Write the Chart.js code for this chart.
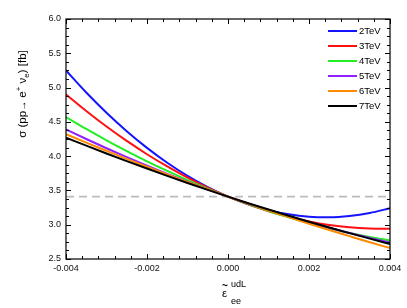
<!DOCTYPE html>
<html>
<head>
<meta charset="utf-8">
<script src="https://cdn.jsdelivr.net/npm/chart.js@4.4.1/dist/chart.umd.min.js"></script>
<style>
html,body{margin:0;padding:0;background:#fff;}
#wrap{width:407px;height:308px;position:relative;}
</style>
</head>
<body>
<div id="wrap"><canvas id="c" width="407" height="308"></canvas></div>
<script>
// x values (epsilon~ udL ee)
const xs = [-0.004,-0.0035,-0.003,-0.0025,-0.002,-0.0015,-0.001,-0.0005,0,0.0005,0.001,0.0015,0.002,0.0025,0.003,0.0035,0.004];
const labels = ["2TeV","3TeV","4TeV","5TeV","6TeV","7TeV"];
const colors = ["#1414ff","#ff1010","#22ee22","#9020ff","#ff8a00","#000000"];
const s2TeV = [5.249,4.928,4.633,4.364,4.121,3.904,3.713,3.549,3.41,3.298,3.211,3.151,3.117,3.109,3.127,3.171,3.241];
const s3TeV = [4.900,4.659,4.432,4.222,4.028,3.850,3.687,3.541,3.41,3.296,3.197,3.115,3.048,2.997,2.962,2.944,2.940];
const s4TeV = [4.570,4.397,4.231,4.074,3.925,3.784,3.651,3.527,3.41,3.302,3.201,3.109,3.025,2.949,2.881,2.821,2.770];
const s5TeV = [4.389,4.250,4.115,3.986,3.861,3.741,3.626,3.515,3.41,3.309,3.214,3.123,3.037,2.956,2.879,2.808,2.741];
const s6TeV = [4.320,4.197,4.078,3.960,3.845,3.732,3.623,3.515,3.41,3.307,3.208,3.110,3.015,2.922,2.833,2.745,2.660];
const s7TeV = [4.270,4.153,4.039,3.928,3.819,3.713,3.609,3.508,3.41,3.314,3.221,3.131,3.043,2.959,2.877,2.797,2.720];
const series = [s2TeV,s3TeV,s4TeV,s5TeV,s6TeV,s7TeV];
const refX = [-0.004, 0.004];
const refY = [3.41, 3.41];
const yMin = 2.5, yMax = 6.0, yStep = 0.5, yMinor = 0.125;
const xMin = -0.004, xMax = 0.004, xStep = 0.002, xMinor = 0.0004;

const FONT = "'Liberation Sans', Arial, sans-serif";

const datasets = series.map((s, i) => ({
  label: labels[i],
  data: xs.map((x, j) => ({x: x, y: s[j]})),
  borderColor: colors[i],
  backgroundColor: colors[i],
  borderWidth: 2,
  pointRadius: 0,
  cubicInterpolationMode: 'monotone',
  order: series.length - i
}));
datasets.push({
  label: 'ref',
  data: refX.map((x, j) => ({x: x, y: refY[j]})),
  borderColor: '#bbbbbb',
  borderWidth: 1.6,
  borderDash: [8, 5],
  pointRadius: 0,
  order: 100
});

const decor = {
  id: 'decor',
  afterDatasetsDraw(chart) {
    const ctx = chart.ctx;
    const a = chart.chartArea;
    const xsc = chart.scales.x, ysc = chart.scales.y;
    ctx.save();
    // frame
    ctx.strokeStyle = '#000';
    ctx.lineWidth = 1.2;
    ctx.strokeRect(a.left, a.top, a.right - a.left, a.bottom - a.top);
    ctx.lineWidth = 1;
    ctx.beginPath();
    const ny = Math.round((yMax - yMin) / yMinor);
    for (let k = 0; k <= ny; k++) {
      const v = yMin + k * yMinor;
      const major = Math.abs((v - yMin) / yStep - Math.round((v - yMin) / yStep)) < 1e-6;
      const len = major ? 5 : 3;
      const py = Math.round(ysc.getPixelForValue(v)) + 0.5;
      ctx.moveTo(a.left, py); ctx.lineTo(a.left + len, py);
      ctx.moveTo(a.right, py); ctx.lineTo(a.right - len, py);
    }
    const nx = Math.round((xMax - xMin) / xMinor);
    for (let k = 0; k <= nx; k++) {
      const v = xMin + k * xMinor;
      const major = Math.abs((v - xMin) / xStep - Math.round((v - xMin) / xStep)) < 1e-6;
      const len = major ? 5 : 3;
      const px = Math.round(xsc.getPixelForValue(v)) + 0.5;
      ctx.moveTo(px, a.bottom); ctx.lineTo(px, a.bottom - len);
      ctx.moveTo(px, a.top); ctx.lineTo(px, a.top + len);
    }
    ctx.stroke();

    // legend
    ctx.textBaseline = 'middle';
    ctx.textAlign = 'left';
    ctx.font = '9.5px ' + FONT;
    for (let i = 0; i < labels.length; i++) {
      const y = 31 + i * 15;
      ctx.strokeStyle = colors[i];
      ctx.lineWidth = 2;
      ctx.beginPath();
      ctx.moveTo(328, y); ctx.lineTo(357, y);
      ctx.stroke();
      ctx.fillStyle = '#000';
      ctx.fillText(labels[i], 359, y + 0.5);
    }

    // y title (rotated)
    ctx.save();
    ctx.translate(22, 94);
    ctx.rotate(-Math.PI / 2);
    const parts = [
      {t: 'σ (pp', f: 11.5, dy: 0},
      {t: '→', f: 10, dy: 0},
      {t: ' e', f: 11.5, dy: 0},
      {t: '+', f: 8, dy: -5},
      {t: ' ν', f: 11.5, dy: 0},
      {t: 'e', f: 8, dy: 3},
      {t: ') [fb]', f: 11.5, dy: 0}
    ];
    let tw = 0;
    parts.forEach(p => { ctx.font = p.f + 'px ' + FONT; p.w = ctx.measureText(p.t).width; tw += p.w; });
    let cx = -tw / 2;
    ctx.textBaseline = 'alphabetic';
    ctx.fillStyle = '#000';
    parts.forEach(p => { ctx.font = p.f + 'px ' + FONT; ctx.fillText(p.t, cx, 4 + p.dy); cx += p.w; });
    ctx.restore();

    // x title
    ctx.fillStyle = '#000';
    ctx.textBaseline = 'alphabetic';
    ctx.textAlign = 'left';
    ctx.font = '11.5px ' + FONT;
    ctx.fillText('ε', 222, 297);
    ctx.font = 'bold 10px ' + FONT;
    ctx.fillText('~', 222, 289);
    ctx.font = '9px ' + FONT;
    ctx.fillText('udL', 231, 287);
    ctx.font = '9px ' + FONT;
    ctx.fillText('ee', 231, 304);
    ctx.restore();
  }
};

new Chart(document.getElementById('c'), {
  type: 'line',
  data: { datasets: datasets },
  options: {
    responsive: false,
    animation: false,
    devicePixelRatio: 1,
    layout: { padding: { left: 0, top: 19, right: 17, bottom: 0 } },
    plugins: { legend: { display: false }, tooltip: { enabled: false } },
    scales: {
      x: {
        type: 'linear', min: xMin, max: xMax,
        afterFit(s) { s.height = 49; },
        grid: { display: false, drawTicks: false },
        border: { display: false },
        ticks: {
          stepSize: xStep, padding: 4, color: '#111',
          font: { size: 9, family: FONT },
          maxRotation: 0,
          callback: v => Number(v).toFixed(3)
        }
      },
      y: {
        type: 'linear', min: yMin, max: yMax,
        afterFit(s) { s.width = 66; },
        grid: { display: false, drawTicks: false },
        border: { display: false },
        ticks: {
          stepSize: yStep, padding: 5, color: '#111',
          font: { size: 9, family: FONT },
          callback: v => Number(v).toFixed(1)
        }
      }
    }
  },
  plugins: [decor]
});
</script>
</body>
</html>
